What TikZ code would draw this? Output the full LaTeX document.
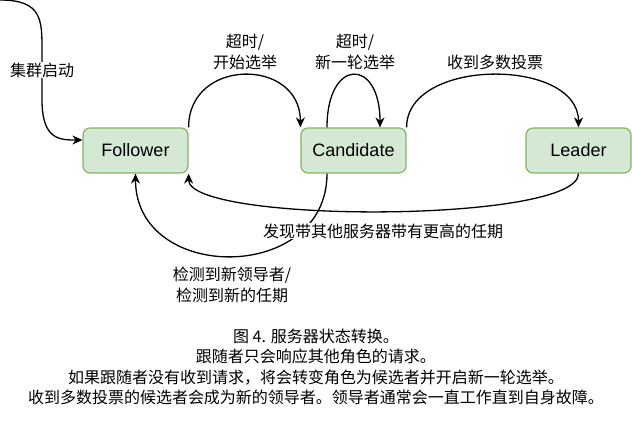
\documentclass[tikz,border=0pt]{standalone}
\usepackage{tikz}
\usetikzlibrary{arrows.meta, positioning}
\usepackage{xcolor}
\usepackage{fontspec}
\setmainfont{Liberation Sans}
\newfontfamily\cjk{Noto Sans CJK SC}
\definecolor{stategreen}{RGB}{213,232,212}
\definecolor{stateborder}{RGB}{130,179,102}
\tikzstyle{state} = [rectangle, rounded corners=7pt, minimum width=105pt, minimum height=45pt, text centered, draw=stateborder, line width=1.2pt, fill=stategreen, font=\fontsize{18}{20}\selectfont]
\tikzstyle{arrow} = [line width=1.3pt, -{Stealth[length=10pt, width=9pt]}]
\tikzstyle{label} = [font=\cjk\fontsize{16}{20.5}\selectfont, align=center, inner sep=1pt]

\begin{document}
\begin{tikzpicture}[x=1pt, y=-1pt]
\useasboundingbox (0,0) rectangle (632,422);

% States
\node[state] (follower) at (135.5,150.5) {Follower};
\node[state] (candidate) at (353.5,150.5) {Candidate};
\node[state] (leader) at (578.5,150.5) {Leader};
\coordinate (start) at (0,0);

% Transitions
\draw[arrow] (start) .. controls (42,0) and (42,20) .. (42,50) -- (42,100) .. controls (42,140) and (60,140) .. ([yshift=10.5pt]follower.west);
\draw[arrow] (follower.north east) .. controls +(0,-70) and +(0,-70) .. (candidate.north west);
\draw[arrow] ([xshift=-26.5pt]candidate.north) .. controls +(0,-70) and +(0,-70) .. ([xshift=26.5pt]candidate.north);
\draw[arrow] (candidate.north east) .. controls +(0,-70) and +(0,-70) .. (leader.north);
\draw[arrow] (leader.south) .. controls +(0,50) and +(0,50) .. (follower.south east);
\draw[arrow] ([xshift=-26.5pt]candidate.south) .. controls +(0,110) and +(0,110) .. (follower.south);

% Labels
\node[label, fill=white] (startlbl) at (42,70) {集群启动};
\node[label] (timeoutlbl) at (245,52) {超时/\\开始选举};
\node[label] (retrylbl) at (355,52) {超时/\\新一轮选举};
\node[label] (votelbl) at (495,62) {收到多数投票};
\node[label, fill=white] (termlbl) at (383,231) {发现带其他服务器带有更高的任期};
\node[label] (newleaderlbl) at (232,285) {检测到新领导者/\\检测到新的任期};

% Caption
\node[label] (caption) at (316,367) {图 4. 服务器状态转换。\\跟随者只会响应其他角色的请求。\\如果跟随者没有收到请求，将会转变角色为候选者并开启新一轮选举。\\收到多数投票的候选者会成为新的领导者。领导者通常会一直工作直到自身故障。};

\end{tikzpicture}
\end{document}
